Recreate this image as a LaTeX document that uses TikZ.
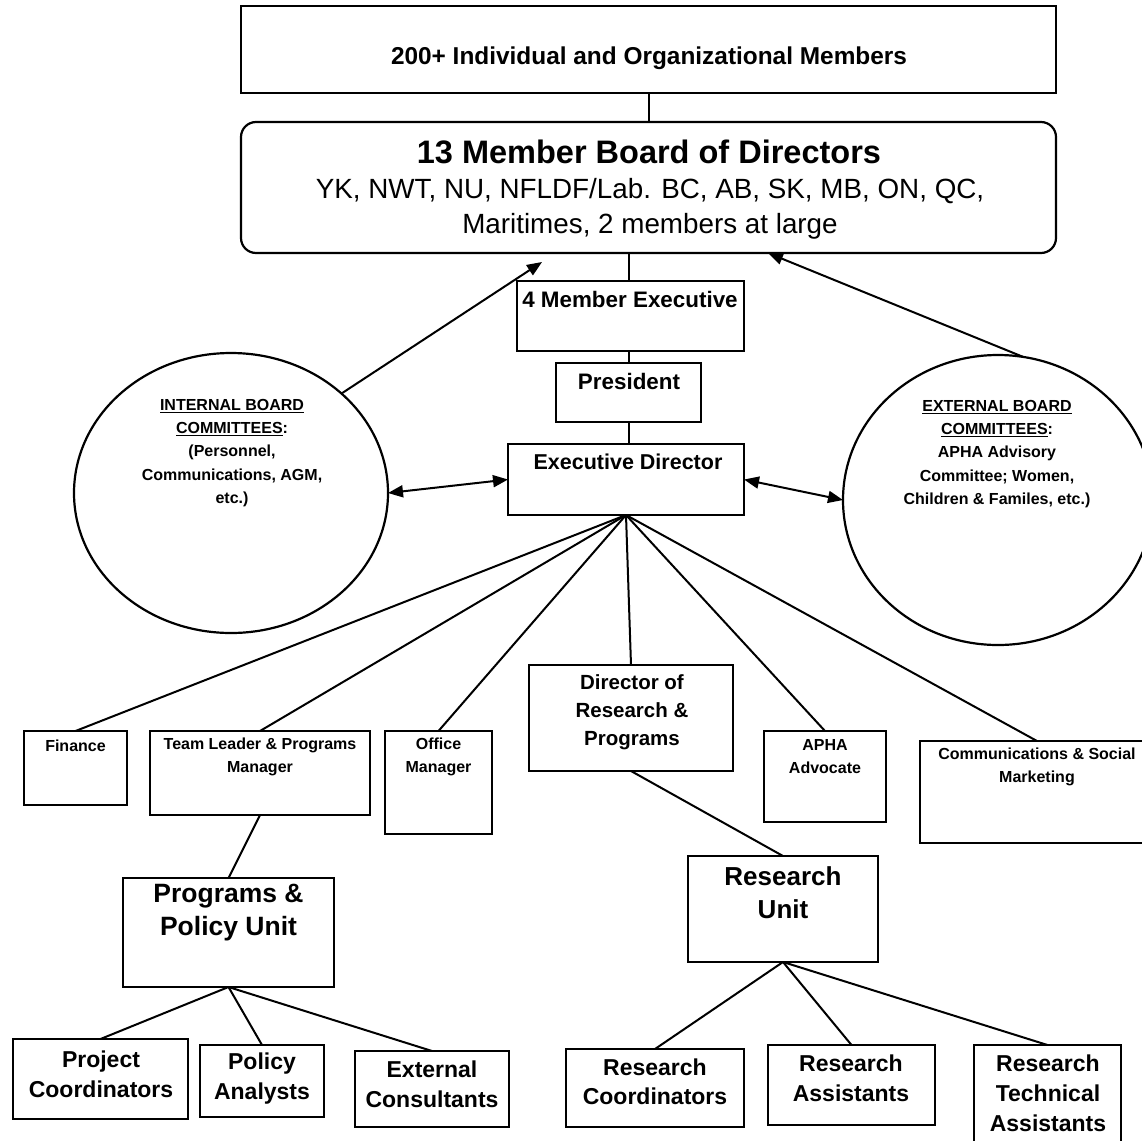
\documentclass[tikz,border=0pt]{standalone}
\usepackage{fontspec}
\setmainfont{Liberation Sans}
\usetikzlibrary{arrows.meta,shapes.geometric}
\newcommand{\fsz}[2]{\fontsize{#1}{#2}\selectfont}
\newcommand{\ulin}[1]{\setbox0\hbox{#1}\rlap{\rule[-2.6pt]{\wd0}{1.4pt}}\box0}
\newcommand{\rbox}[5]{\node[box, minimum width={(#4-#2)*1pt}, minimum height={(#5-#3)*1pt}] (#1) at ({(#2+#4)/2},{(#3+#5)/2}) {};}
\tikzset{
  box/.style={draw, line width=2.2pt, inner sep=0pt, outer sep=0pt},
  conn/.style={line width=2pt},
  tip/.tip={Triangle[length=15pt,width=12pt]},
  arr/.style={line width=2pt, -tip},
  darr/.style={line width=2pt, tip-tip},
  txt/.style={inner sep=0pt, align=center},
  circ/.style={draw, ellipse, line width=2.2pt, inner sep=0pt, outer sep=0pt},
}
\begin{document}
\begin{tikzpicture}[x=1pt,y=-1pt]
\fill[white] (0,0) rectangle (1141,1141);
\useasboundingbox (0,0) rectangle (1141,1141);

% boxes
\rbox{top}{241}{6}{1056}{93}
\node[box, rounded corners=15pt, minimum width=815pt, minimum height=131pt] (board) at (648.5,187.5) {};
\rbox{meexec}{517}{281}{744}{351}
\rbox{pres}{556}{363}{701}{422}
\rbox{ed}{508}{444}{744}{515}
\rbox{fin}{24}{731}{127}{805}
\rbox{tl}{150}{731}{370}{815}
\rbox{om}{385}{731}{492}{834}
\rbox{dir}{529}{665}{733}{771}
\rbox{apha}{764}{731}{886}{822}
\rbox{comm}{920}{741}{1154}{843}
\rbox{pu}{123}{878}{334}{987}
\rbox{ru}{688}{856}{878}{962}
\rbox{pc}{13}{1039}{188}{1119}
\rbox{pa}{200}{1045}{324}{1117}
\rbox{ec}{355}{1051}{509}{1127}
\rbox{rco}{566}{1049}{744}{1127}
\rbox{ra}{768}{1045}{935}{1125}
\rbox{rta}{974}{1045}{1121}{1160}

\node[circ, minimum width=314pt, minimum height=280pt] (icirc) at (231,493) {};
\node[circ, minimum width=310pt, minimum height=290pt] (xcirc) at (998,500) {};

% texts
\node[txt, font=\fsz{24.4}{29}\bfseries] (ttop) at (649,58) {200+ Individual and Organizational Members};
\node[txt, font=\fsz{32.5}{38}\bfseries] (tboard1) at (649,152) {13 Member Board of Directors};
\node[txt, font=\fsz{27.8}{35}] (tboard2) at (650,209) {YK, NWT, NU, NFLDF/Lab. BC, AB, SK, MB, ON, QC,\\Maritimes, 2 members at large};
\node[txt, font=\fsz{22.4}{27}\bfseries] (tme) at (630,299) {4 Member Executive};
\node[txt, font=\fsz{22.4}{27}\bfseries] (tpres) at (629,381) {President};
\node[txt, font=\fsz{21.5}{27}\bfseries] (ted) at (628,462) {Executive Director};
\node[txt, font=\fsz{16}{23.25}\bfseries] (ticirc) at (232,453) {\ulin{INTERNAL BOARD}\\\ulin{COMMITTEES}:\\(Personnel,\\Communications, AGM,\\etc.)};
\node[txt, font=\fsz{16}{23.25}\bfseries] (txcirc) at (997,454) {\ulin{EXTERNAL BOARD}\\\ulin{COMMITTEES}:\\APHA Advisory\\Committee; Women,\\Children \& Familes, etc.)};
\node[txt, font=\fsz{16}{23}\bfseries] (tfin) at (75.5,745.5) {Finance};
\node[txt, font=\fsz{16}{23}\bfseries] (ttl) at (260,757) {Team Leader \& Programs\\Manager};
\node[txt, font=\fsz{16}{23}\bfseries] (tom) at (438.5,757) {Office\\Manager};
\node[txt, font=\fsz{20.5}{28}\bfseries] (tdir) at (632,712) {Director of\\Research \&\\Programs};
\node[txt, font=\fsz{16}{23}\bfseries] (tapha) at (825,757) {APHA\\Advocate};
\node[txt, font=\fsz{16}{23}\bfseries] (tcomm) at (1037,767) {Communications \& Social\\Marketing};
\node[txt, font=\fsz{26.5}{33}\bfseries] (tpu) at (228.5,913) {Programs \&\\Policy Unit};
\node[txt, font=\fsz{26}{33}\bfseries] (tru) at (783,893) {Research\\Unit};
\node[txt, font=\fsz{23}{30}\bfseries] (tpc) at (101,1074) {Project\\Coordinators};
\node[txt, font=\fsz{23}{30}\bfseries] (tpa) at (262,1079) {Policy\\Analysts};
\node[txt, font=\fsz{23}{30}\bfseries] (tec) at (432,1084) {External\\Consultants};
\node[txt, font=\fsz{23}{29}\bfseries] (trco) at (655,1082) {Research\\Coordinators};
\node[txt, font=\fsz{23}{30}\bfseries] (tra) at (851,1078) {Research\\Assistants};
\node[txt, font=\fsz{23}{30}\bfseries] (trta) at (1048,1093) {Research\\Technical\\Assistants};

% connectors
\draw[conn] (top.south) -- (board.north);
\draw[conn] (board.south -| pres.north) -- (meexec.north -| pres.north);
\draw[conn] (meexec.south -| pres.north) -- (pres.north);
\draw[conn] (pres.south) -- (ed.north -| pres.south);
\foreach \t in {fin,tl,om,dir,apha,comm}
  \draw[conn] (ed.south) -- (\t.north);
\draw[conn] (tl.south) -- (pu.north);
\draw[conn] (dir.south) -- (ru.north);
\foreach \t in {pc,pa,ec}
  \draw[conn] (pu.south) -- (\t.north);
\foreach \t in {rco,ra,rta}
  \draw[conn] (ru.south) -- (\t.north);

% arrows
\coordinate (ltip) at (542,262);
\coordinate (rtip) at (768,253);
\draw[arr] (icirc.42) -- (ltip);
\draw[arr] (xcirc.80) -- (rtip);
\draw[darr] (icirc.east) -- (ed.west);
\draw[darr] (ed.east) -- (xcirc.west);
\end{tikzpicture}
\end{document}
